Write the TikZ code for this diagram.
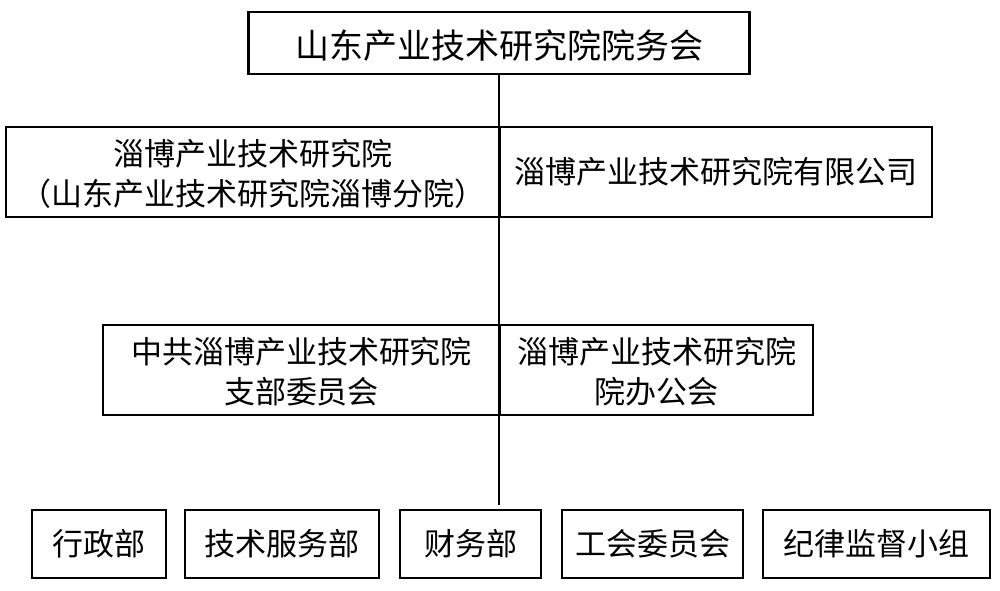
\documentclass[tikz,border=0pt]{standalone}
\usepackage{fontspec}
\setmainfont{Noto Sans CJK SC}
\newcommand{\twolines}[2]{\raisebox{-4.5pt}[\height][\depth]{\begin{tabular}{@{}c@{}}#1\\#2\end{tabular}}}
\newcommand{\lowered}[1]{\raisebox{-2pt}[\height][\depth]{#1}}
\begin{document}
\begin{tikzpicture}[x=0.75pt,y=-0.75pt,
  box/.style={draw,line width=2pt,inner sep=0pt,align=center,
    font=\fontsize{23.25}{30}\selectfont},
  topbox/.style={box,font=\fontsize{25.5}{30}\selectfont},
  link/.style={line width=1.5pt}]
\useasboundingbox[fill=white] (0,0) rectangle (1000,591);
% top
\node[topbox,minimum width=375.75pt,minimum height=46.5pt] (top) at (499,43) {\lowered{山东产业技术研究院院务会}};
% row 2
\node[box,minimum width=370.5pt,minimum height=67.5pt] (fenyuan) at (253,172) {\twolines{淄博产业技术研究院}{（山东产业技术研究院淄博分院）}};
\node[box,minimum width=324pt,minimum height=67.5pt] (gongsi) at (716,172) {淄博产业技术研究院有限公司};
% row 3
\node[box,minimum width=297.75pt,minimum height=67.5pt] (zhibu) at (301.5,370) {\twolines{中共淄博产业技术研究院}{支部委员会}};
\node[box,minimum width=234.75pt,minimum height=67.5pt] (banggong) at (656.5,370) {\twolines{淄博产业技术研究院}{院办公会}};
% bottom
\node[box,minimum width=100.5pt,minimum height=51pt] (xingzheng) at (99,544) {行政部};
\node[box,minimum width=145.5pt,minimum height=51pt] (jishu) at (282,544) {技术服务部};
\node[box,minimum width=105.75pt,minimum height=51pt] (caiwu) at (470.5,544) {财务部};
\node[box,minimum width=135.75pt,minimum height=51pt] (gonghui) at (652.5,544) {工会委员会};
\node[box,minimum width=170.25pt,minimum height=51pt] (jilv) at (876.5,544) {纪律监督小组};
% connector
\coordinate (end) at (499,505);
\draw[link] (top.south) -- (end);
\end{tikzpicture}
\end{document}
